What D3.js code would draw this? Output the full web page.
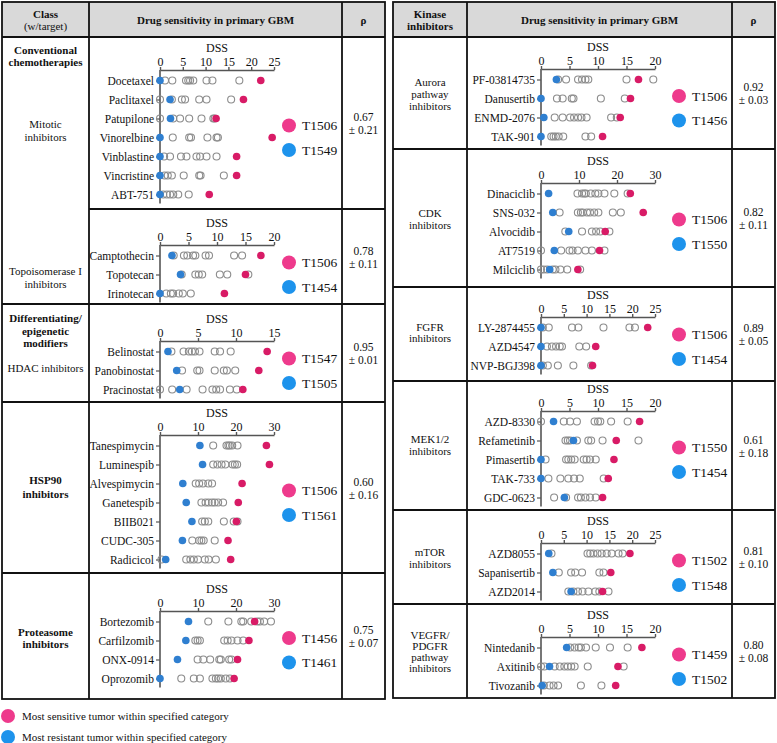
<!DOCTYPE html>
<html><head><meta charset="utf-8">
<script src="https://cdn.jsdelivr.net/npm/d3@7/dist/d3.min.js"></script>
<style>body{margin:0;background:#fff}</style>
</head><body><svg id="c" width="777" height="743"></svg>
<script>
// ================= DATA =================
const mitoticDrugs = ["Docetaxel","Paclitaxel","Patupilone","Vinorelbine","Vinblastine","Vincristine","ABT-751"];
const mitoticSensitive = [22.1,18.3,12.3,24.6,16.8,16.8,10.8];
const mitoticResistant = [0,2.2,2.3,0,0,0,0];
const mitoticOthers = [[1.1,2.7,5.7,6.2,6.6,7.3,10.2,11.5,17.4],[0,2.6,4.8,5.5,8.6,10.2,15.6],[0,2.9,4.4,6.4,9.1,11.7,12.0],[2.8,6.4,6.8,10.4,12.4,12.7],[0.9,2.2,4.6,5.8,8.0,8.8,10.2,12.4],[1.0,1.7,2.6,5.2,8.6,8.9,14.0],[0.7,1.5,2.2,2.9,4.0,6.3]];

const topoDrugs = ["Camptothecin","Topotecan","Irinotecan"];
const topoSensitive = [17.7,15.0,11.3];
const topoResistant = [2.1,3.6,0];
const topoOthers = [[2.4,4.2,4.8,5.8,6.2,8.0,8.6,13.0,14.4],[3.8,6.2,6.8,7.4,10.5,11.8,15.5],[1.1,1.9,2.3,3.3,4.0,5.4]];

const hdacDrugs = ["Belinostat","Panobinostat","Pracinostat"];
const hdacSensitive = [14.1,13.0,10.9];
const hdacResistant = [1.05,2.2,2.6];
const hdacOthers = [[1.5,3.1,3.8,4.2,4.6,5.2,7.2,7.9,9.3],[2.9,4.9,5.2,7.2,8.4,8.8,9.9],[0,1.6,3.5,5.6,6.9,7.4,7.9,9.2,10.1]];

const hspDrugs = ["Tanespimycin","Luminespib","Alvespimycin","Ganetespib","BIIB021","CUDC-305","Radicicol"];
const hspSensitive = [28.0,28.8,21.6,20.6,20.1,17.9,18.6];
const hspResistant = [10.5,11.2,6.0,6.9,8.4,5.9,1.5];
const hspOthers = [[14.0,17.5,18.0,18.4,19.0,20.4],[14.0,15.1,16.2,17.2,19.1,19.7,20.3],[9.4,10.3,11.3,12.7,13.7],[10.9,12.0,12.8,13.7,14.4,15.3,16.6],[11.1,11.8,12.7,16.8,19.4,20.4],[8.5,10.3,10.9,11.5,14.4],[0.4,6.9,8.0,8.9,10.0,11.8,12.8,14.7]];

const protDrugs = ["Bortezomib","Carfilzomib","ONX-0914","Oprozomib"];
const protSensitive = [24.9,23.4,20.4,19.5];
const protResistant = [7.5,6.8,4.6,0];
const protOthers = [[12.7,18.0,21.4,21.9,24.0,25.6,26.3,27.4,29.2],[9.3,9.9,10.5,16.9,17.8,18.8,20.4,21.9],[9.9,11.4,13.2,15.6,16.0,18.2,18.8],[5.6,8.9,10.5,13.8,14.7,15.3,16.0,17.3,18.4]];

const auroraDrugs = ["PF-03814735","Danusertib","ENMD-2076","TAK-901"];
const auroraSensitive = [17.1,15.7,13.9,10.8];
const auroraResistant = [2.7,0,0.5,0];
const auroraOthers = [[3.0,4.4,6.5,7.2,7.8,8.3,15.0,19.7],[2.8,3.8,5.4,5.7,10.5,14.7],[2.4,3.8,5.1,5.8,6.5,7.1,8.0,12.3,13.3],[1.8,2.2,2.6,3.1,3.9,7.8,8.8]];

const cdkDrugs = ["Dinaciclib","SNS-032","Alvocidib","AT7519","Milciclib"];
const cdkSensitive = [23.5,26.9,16.9,15.4,9.7];
const cdkResistant = [2.0,3.1,7.3,3.5,2.3];
const cdkOthers = [[9.6,10.8,11.4,11.8,13.1,14.3,15.1,16.7,19.3,22.8],[4.9,9.7,10.5,11.0,12.1,12.9,14.0,15.1,18.9,21.0],[6.4,10.8,13.4,14.5,15.6,18.0],[0,5.3,7.5,8.3,9.7,11.7,13.4,16.7],[0,0.7,1.6,3.1,3.8,5.1,6.9,10.3]];

const fgfrDrugs = ["LY-2874455","AZD4547","NVP-BGJ398"];
const fgfrSensitive = [23.4,12.0,11.3];
const fgfrResistant = [0,0,0];
const fgfrOthers = [[0.4,1.7,6.8,8.2,13.7,19.4,20.6],[1.3,2.4,3.3,4.1,4.6,8.4,9.9],[0.4,1.5,3.7,7.1,11.0]];

const mekDrugs = ["AZD-8330","Refametinib","Pimasertib","TAK-733","GDC-0623"];
const mekSensitive = [17.3,13.2,12.8,11.8,10.8];
const mekResistant = [2.2,5.7,0,0,4.1];
const mekOthers = [[0,4.0,5.1,6.3,9.4,10.0,10.4,12.3,15.2],[4.3,4.7,5.1,6.3,8.3,8.8,10.8,17.1],[0.8,4.4,4.8,5.3,5.9,7.5,8.0,8.6,9.6],[1.3,3.4,4.8,5.8,6.8,11.0],[2.3,4.4,6.5,7.0,7.8,8.6,9.6]];

const mtorDrugs = ["AZD8055","Sapanisertib","AZD2014"];
const mtorSensitive = [19.5,15.3,13.5];
const mtorResistant = [1.7,2.6,6.6];
const mtorOthers = [[2.3,10.2,10.8,11.5,12.4,13.3,14.4,15.5,17.0,17.9],[3.9,6.6,7.5,9.0,12.8,13.7],[6.0,7.1,8.1,9.1,10.4,11.9,12.8,14.8]];

const vegfrDrugs = ["Nintedanib","Axitinib","Tivozanib"];
const vegfrSensitive = [17.7,13.5,13.1];
const vegfrResistant = [4.5,1.5,0.2];
const vegfrOthers = [[5.1,5.9,6.6,7.0,7.9,9.6,12.1,15.2],[0,0.6,2.4,3.3,4.1,4.7,5.3,5.9,8.2,14.5],[0.5,1.5,2.2,3.0,7.0,10.6]];

const axisMax = [25,20,15,30,30, 20,30,25,20,25,20];
const tickStep = [5,5,5,10,10, 5,10,5,5,5,5];
const sensitiveTumor = ["T1506","T1506","T1547","T1506","T1456", "T1506","T1506","T1506","T1550","T1502","T1459"];
const resistantTumor = ["T1549","T1454","T1505","T1561","T1461", "T1456","T1550","T1454","T1454","T1548","T1502"];
const rhoMean = ["0.67","0.78","0.95","0.60","0.75", "0.92","0.82","0.89","0.61","0.81","0.80"];
const rhoSd = ["0.21","0.11","0.01","0.16","0.07", "0.03","0.11","0.05","0.18","0.10","0.08"];

const leftClassLabels = [["Conventional","chemotherapies"],["Mitotic","inhibitors"],["Topoisomerase I","inhibitors"],["Differentiating/","epigenetic","modifiers"],["HDAC inhibitors"],["HSP90","inhibitors"],["Proteasome","inhibitors"]];
const rightClassLabels = [["Aurora","pathway","inhibitors"],["CDK","inhibitors"],["FGFR","inhibitors"],["MEK1/2","inhibitors"],["mTOR","inhibitors"],["VEGFR/","PDGFR","pathway","inhibitors"]];
const legendTexts = ["Most sensitive tumor within specified category","Most resistant tumor within specified category"];

// ================= LAYOUT =================
const panels = [
  {drugs:mitoticDrugs, s:mitoticSensitive, r:mitoticResistant, o:mitoticOthers},
  {drugs:topoDrugs, s:topoSensitive, r:topoResistant, o:topoOthers},
  {drugs:hdacDrugs, s:hdacSensitive, r:hdacResistant, o:hdacOthers},
  {drugs:hspDrugs, s:hspSensitive, r:hspResistant, o:hspOthers},
  {drugs:protDrugs, s:protSensitive, r:protResistant, o:protOthers},
  {drugs:auroraDrugs, s:auroraSensitive, r:auroraResistant, o:auroraOthers},
  {drugs:cdkDrugs, s:cdkSensitive, r:cdkResistant, o:cdkOthers},
  {drugs:fgfrDrugs, s:fgfrSensitive, r:fgfrResistant, o:fgfrOthers},
  {drugs:mekDrugs, s:mekSensitive, r:mekResistant, o:mekOthers},
  {drugs:mtorDrugs, s:mtorSensitive, r:mtorResistant, o:mtorOthers},
  {drugs:vegfrDrugs, s:vegfrSensitive, r:vegfrResistant, o:vegfrOthers}
];
const geom = [
  {side:0, ay:70, cell:[37,209]},
  {side:0, ay:245, cell:[209,304]},
  {side:0, ay:341, cell:[304,402]},
  {side:0, ay:435, cell:[402,573]},
  {side:0, ay:611, cell:[573,699]},
  {side:1, ay:69, cell:[37,149]},
  {side:1, ay:183, cell:[149,287]},
  {side:1, ay:317, cell:[287,381]},
  {side:1, ay:411, cell:[381,510]},
  {side:1, ay:543, cell:[510,604]},
  {side:1, ay:637, cell:[604,698]}
];
const tables = [
  {x:[2,89,342,385], top:2, head:37, bottom:699},
  {x:[393,467,732,775], top:2, head:37, bottom:698}
];
const leftClassY = [[50,62],[124,137],[271,284],[318,331,343],[368],[480,494],[632,644]];
const rightClassY = [[82,94,106],[213,225],[327,338],[439,451],[552,564],[635,646,657,668]];

const F = "'Liberation Serif','Times New Roman',serif";
const PINK = "#d81b66", BLUE = "#2f7fd0", PINK_L = "#ee3a8c", BLUE_L = "#1d93ec";
const svg = d3.select("#c");

// ---- tables ----
tables.forEach((t,ti) => {
  svg.append("rect").attr("x",t.x[0]).attr("y",t.top).attr("width",t.x[3]-t.x[0]).attr("height",t.head-t.top).attr("fill","#d9d9d9");
  const g = svg.append("g").attr("stroke","#111").attr("stroke-width",1.8).attr("fill","none");
  g.append("rect").attr("x",t.x[0]).attr("y",t.top).attr("width",t.x[3]-t.x[0]).attr("height",t.bottom-t.top);
  [1,2].forEach(i => g.append("line").attr("x1",t.x[i]).attr("x2",t.x[i]).attr("y1",t.top).attr("y2",t.bottom));
  g.append("line").attr("x1",t.x[0]).attr("x2",t.x[3]).attr("y1",t.head).attr("y2",t.head);
  const hx = (t.x[0]+t.x[1])/2, mx=(t.x[1]+t.x[2])/2, rx=(t.x[2]+t.x[3])/2;
  const h = svg.append("g").attr("font-family",F).attr("font-size","11px").attr("text-anchor","middle").attr("fill","#111");
  if (ti===0){
    h.append("text").attr("x",hx).attr("y",18).attr("font-weight","bold").text("Class");
    h.append("text").attr("x",hx).attr("y",30).text("(w/target)");
  } else {
    h.append("text").attr("x",hx).attr("y",18).attr("font-weight","bold").text("Kinase");
    h.append("text").attr("x",hx).attr("y",30).attr("font-weight","bold").text("inhibitors");
  }
  h.append("text").attr("x",mx).attr("y",24).attr("font-weight","bold").text("Drug sensitivity in primary GBM");
  h.append("text").attr("x",rx).attr("y",24).attr("font-weight","bold").text("ρ");
});

// row divider lines
geom.forEach((gm,i) => {
  const t = tables[gm.side];
  if (gm.cell[1] >= t.bottom-2) return;
  const x1 = (i===0) ? t.x[1] : t.x[0];
  svg.append("line").attr("x1",x1).attr("x2",t.x[3]).attr("y1",gm.cell[1]).attr("y2",gm.cell[1]).attr("stroke","#111").attr("stroke-width",1.8);
});

// class labels
function classText(labels, ys, cx, boldIdx){
  labels.forEach((lines,i) => {
    lines.forEach((ln,j) => {
      svg.append("text").attr("x",cx).attr("y",ys[i][j]+3.5).attr("text-anchor","middle")
        .attr("font-family",F).attr("font-size","11px").attr("fill","#111")
        .attr("font-weight", boldIdx.includes(i) ? "bold":"normal").text(ln);
    });
  });
}
classText(leftClassLabels, leftClassY, (tables[0].x[0]+tables[0].x[1])/2, [0,3,5,6]);
classText(rightClassLabels, rightClassY, (tables[1].x[0]+tables[1].x[1])/2, []);

// ---- panels ----
panels.forEach((p,i) => {
  const gm = geom[i], t = tables[gm.side];
  const x0 = gm.side===0 ? 160 : 541;
  const x = d3.scaleLinear().domain([0,axisMax[i]]).range([x0, x0+114]);
  const n = p.drugs.length;
  const y = d3.scalePoint().domain(p.drugs).range([gm.ay+10.5, gm.ay+10.5+19*(n-1)]);
  const g = svg.append("g");
  g.append("text").attr("x",x(axisMax[i]/2)).attr("y",gm.ay-18).attr("text-anchor","middle")
    .attr("font-family",F).attr("font-size","12px").attr("fill","#111").text("DSS");
  const ta = g.append("g").attr("transform",`translate(0,${gm.ay})`)
    .call(d3.axisTop(x).tickValues(d3.range(0,axisMax[i]+0.1,tickStep[i])).tickSizeInner(3).tickSizeOuter(0).tickPadding(1));
  ta.selectAll("text").attr("font-family",F).attr("font-size","12px").attr("fill","#111");
  ta.selectAll("line,path").attr("stroke","#555").attr("stroke-width",1.4);
  const la = g.append("g").attr("transform",`translate(${x0},0)`)
    .call(d3.axisLeft(y).tickSizeInner(4).tickSizeOuter(0).tickPadding(2));
  la.select(".domain").remove();
  la.selectAll("text").attr("font-family",F).attr("font-size","11.5px").attr("fill","#111");
  la.selectAll("line").attr("stroke","#555").attr("stroke-width",1.2);
  g.append("line").attr("x1",x0).attr("x2",x0).attr("y1",gm.ay).attr("y2",y(p.drugs[n-1])+9)
    .attr("stroke","#555").attr("stroke-width",1.6);
  p.drugs.forEach((d,k) => {
    g.selectAll(null).data(p.o[k]).enter().append("circle")
      .attr("cx",v=>x(v)).attr("cy",y(d)).attr("r",3.5)
      .attr("fill","none").attr("stroke","#8c8c8c").attr("stroke-width",1.1);
  });
  g.selectAll(null).data(p.drugs).enter().append("circle")
    .attr("cx",(d,k)=>x(p.r[k])).attr("cy",d=>y(d)).attr("r",3.8).attr("fill",BLUE);
  g.selectAll(null).data(p.drugs).enter().append("circle")
    .attr("cx",(d,k)=>x(p.s[k])).attr("cy",d=>y(d)).attr("r",3.8).attr("fill",PINK);
  const cy = (y(p.drugs[0])+y(p.drugs[n-1]))/2;
  const lx = gm.side===0 ? 289 : 679;
  [[PINK_L,sensitiveTumor[i],-12],[BLUE_L,resistantTumor[i],12.5]].forEach(([c,lab,dy]) => {
    g.append("circle").attr("cx",lx).attr("cy",cy+dy).attr("r",7).attr("fill",c);
    g.append("text").attr("x",lx+13).attr("y",cy+dy+4.5).attr("font-family",F).attr("font-size","13.5px").attr("fill","#111").text(lab);
  });
  const rx = (t.x[2]+t.x[3])/2, rc = (gm.cell[0]+gm.cell[1])/2;
  g.append("text").attr("x",rx).attr("y",rc-2).attr("text-anchor","middle").attr("font-family",F).attr("font-size","11.5px").attr("fill","#111").text(rhoMean[i]);
  g.append("text").attr("x",rx).attr("y",rc+11).attr("text-anchor","middle").attr("font-family",F).attr("font-size","11.5px").attr("fill","#111").text("± "+rhoSd[i]);
});

// bottom legend
[[PINK_L,716],[BLUE_L,737]].forEach(([c,yy],k) => {
  svg.append("circle").attr("cx",8).attr("cy",yy).attr("r",7).attr("fill",c);
  svg.append("text").attr("x",22).attr("y",yy+4).attr("font-family",F).attr("font-size","11px").attr("fill","#111").text(legendTexts[k]);
});
</script></body></html>
